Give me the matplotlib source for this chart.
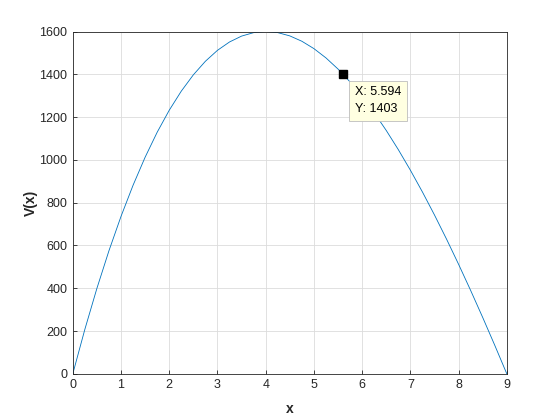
import matplotlib
matplotlib.use("Agg")
import matplotlib.pyplot as plt

x = [0, 0.25, 0.5, 0.75, 1, 1.25, 1.5, 1.75, 2, 2.25, 2.5, 2.75, 3, 3.25,
     3.5, 3.75, 4, 4.25, 4.5, 4.75, 5, 5.25, 5.5, 5.75, 6, 6.25, 6.5, 6.75,
     7, 7.25, 7.5, 7.75, 8, 8.25, 8.5, 8.75, 9]
v = [0, 207.81, 399.5, 575.44, 736, 881.56, 1012.5, 1129.19, 1232, 1321.31,
     1397.5, 1460.94, 1512, 1551.06, 1578.5, 1594.69, 1600, 1594.81, 1579.5,
     1554.44, 1520, 1476.56, 1424.5, 1364.19, 1296, 1220.31, 1137.5, 1047.94,
     952, 850.06, 742.5, 629.69, 512, 389.81, 263.5, 133.44, 0]
tip_x = 5.594
tip_y = 1403

plt.rcParams["font.family"] = ["Liberation Sans", "DejaVu Sans"]
dark = "#262626"

fig = plt.figure(figsize=(5.6, 4.2), dpi=100)
ax = fig.add_axes([0.13, 0.11, 0.775, 0.815])
ax.plot(x, v, color="#0072BD", linewidth=0.6)

ax.set_xlim(0, 9)
ax.set_ylim(0, 1600)
ax.set_xticks(range(0, 10))
ax.set_yticks(range(0, 1601, 200))
ax.grid(True, color="#dcdcdc", linewidth=0.6)
ax.set_axisbelow(True)
ax.tick_params(direction="in", length=3, width=0.6, colors=dark, labelsize=9, pad=4)
for s in ax.spines.values():
    s.set_color(dark)
    s.set_linewidth(0.6)

ax.set_xlabel("x", fontsize=10, fontweight="bold", color=dark, labelpad=8)
ax.set_ylabel("V(x)", fontsize=10, fontweight="bold", color=dark, labelpad=1)

# data tip
ax.plot([tip_x], [tip_y], marker="s", markersize=6, color="black", clip_on=False, zorder=5)
ax.annotate(f"X: {tip_x}\nY: {tip_y}", xy=(tip_x, tip_y), xytext=(9, -9),
            textcoords="offset points", ha="left", va="top", fontsize=9,
            color="black", linespacing=1.55,
            bbox=dict(boxstyle="square,pad=0.45", fc="#ffffe1", ec="#bdbdbd", lw=0.6),
            zorder=6)

fig.savefig("out.png", dpi=100)
